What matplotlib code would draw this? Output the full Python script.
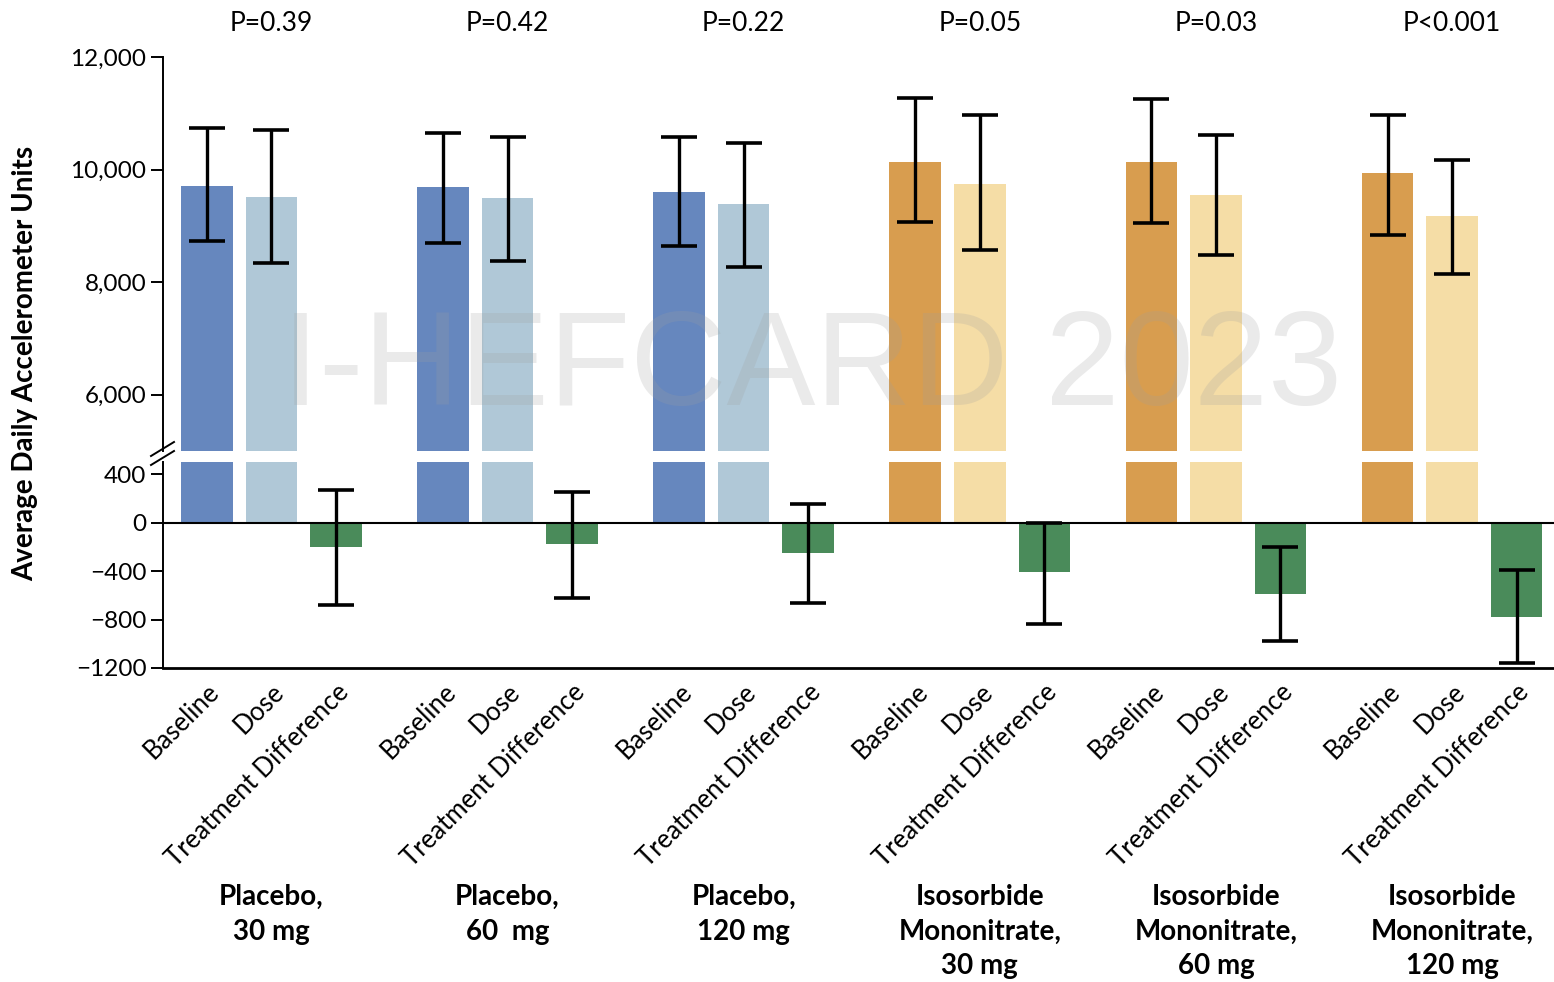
import numpy as np
import matplotlib.pyplot as plt

plt.rcParams['font.family'] = ['Lato', 'DejaVu Sans']

# groups and bar categories
GROUPS = ["Placebo,\n30 mg", "Placebo,\n60  mg", "Placebo,\n120 mg",
          "Isosorbide\nMononitrate,\n30 mg", "Isosorbide\nMononitrate,\n60 mg",
          "Isosorbide\nMononitrate,\n120 mg"]
BAR_LABELS = ["Baseline", "Dose", "Treatment Difference"]
P_VALUES = ["P=0.39", "P=0.42", "P=0.22", "P=0.05", "P=0.03", "P<0.001"]

# values
baseline = [9700, 9690, 9600, 10130, 10130, 9940]
baseline_lo = [8730, 8700, 8640, 9070, 9050, 8840]
baseline_hi = [10740, 10650, 10580, 11270, 11250, 10970]

dose = [9510, 9500, 9390, 9740, 9550, 9170]
dose_lo = [8340, 8380, 8270, 8570, 8480, 8150]
dose_hi = [10700, 10580, 10470, 10970, 10610, 10170]

diff = [-205, -175, -255, -405, -590, -775]
diff_lo = [-680, -620, -665, -835, -975, -1160]
diff_hi = [265, 255, 150, 0, -205, -390]

PLACEBO_COLORS = ["#6687BE", "#B0C8D7"]
ISMN_COLORS = ["#D89D4F", "#F5DDA6"]
DIFF_COLOR = "#4A8B5A"

GROUP_STEP = 3.66
WIDTH = 0.8

fig = plt.figure(figsize=(15.54, 9.82), dpi=100)
ax_top = fig.add_axes([163 / 1554, 1 - 451 / 982, 1 - 163 / 1554, (451 - 57) / 982])
ax_bot = fig.add_axes([163 / 1554, 1 - 668 / 982, 1 - 163 / 1554, (668 - 462) / 982])

centers = np.arange(len(GROUPS)) * GROUP_STEP
x_base = centers
x_dose = centers + 1
x_diff = centers + 2

for ax in (ax_top, ax_bot):
    for i in range(len(GROUPS)):
        cols = PLACEBO_COLORS if i < 3 else ISMN_COLORS
        ax.bar(x_base[i], baseline[i], WIDTH, color=cols[0], zorder=2)
        ax.bar(x_dose[i], dose[i], WIDTH, color=cols[1], zorder=2)
    ax.bar(x_diff, diff, WIDTH, color=DIFF_COLOR, zorder=2)

    def err(x, v, lo, hi):
        v = np.array(v)
        yerr = [v - np.array(lo), np.array(hi) - v]
        ax.errorbar(x, v, yerr=yerr, fmt='none', ecolor='black', elinewidth=2.4,
                    capsize=13, capthick=2.6, zorder=4)
    err(x_base, baseline, baseline_lo, baseline_hi)
    err(x_dose, dose, dose_lo, dose_hi)
    err(x_diff, diff, diff_lo, diff_hi)

    ax.set_xlim(-0.68, 20.88)
    for s in ('top', 'right'):
        ax.spines[s].set_visible(False)
    ax.spines['left'].set_linewidth(1.4)
    ax.tick_params(axis='y', length=9, width=1.4, labelsize=17.5, pad=3)

ax_top.set_ylim(5000, 12000)
ax_top.set_yticks([6000, 8000, 10000, 12000])
ax_top.set_yticklabels(["6,000", "8,000", "10,000", "12,000"])
ax_top.spines['bottom'].set_visible(False)
ax_top.set_xticks([])

ax_bot.set_ylim(-1200, 500)
ax_bot.set_yticks([400, 0, -400, -800, -1200])
ax_bot.set_yticklabels(["400", "0", "\u2212400", "\u2212800", "\u22121200"])
ax_bot.spines['bottom'].set_linewidth(2.0)
ax_bot.axhline(0, color='black', lw=1.5, zorder=3)

xt = np.concatenate([x_base, x_dose, x_diff])
xl = [BAR_LABELS[0]] * 6 + [BAR_LABELS[1]] * 6 + [BAR_LABELS[2]] * 6
ax_bot.set_xticks(xt)
ax_bot.set_xticklabels(xl, rotation=45, ha='right', rotation_mode='anchor', fontsize=18.5)
ax_bot.tick_params(axis='x', length=0, pad=8)

# group names and p values
for i, g in enumerate(GROUPS):
    ax_bot.text(x_dose[i], -1.05, g, transform=ax_bot.get_xaxis_transform(),
                ha='center', va='top', fontsize=20, fontweight='bold', linespacing=1.4)
    ax_top.text(x_dose[i], 1.085, P_VALUES[i], transform=ax_top.get_xaxis_transform(),
                ha='center', va='center', fontsize=19)

fig.text(25 / 1554, 1 - 363 / 982, "Average Daily Accelerometer Units", rotation=90,
         ha='center', va='center', fontsize=20, fontweight='bold')

# axis break marks
for dy in (449, 458):
    fig.add_artist(plt.Line2D([151 / 1554, 174 / 1554], [1 - (dy + 7) / 982, 1 - (dy - 7) / 982],
                              color='black', lw=1.4))

# watermark
fig.text(812 / 1554, 1 - 370 / 982, "I-HEFCARD 2023", ha='center', va='center',
         fontsize=96, family='Liberation Sans', color='#a0a0a0', alpha=0.22, zorder=10)

fig.savefig("out.png", dpi=100)
